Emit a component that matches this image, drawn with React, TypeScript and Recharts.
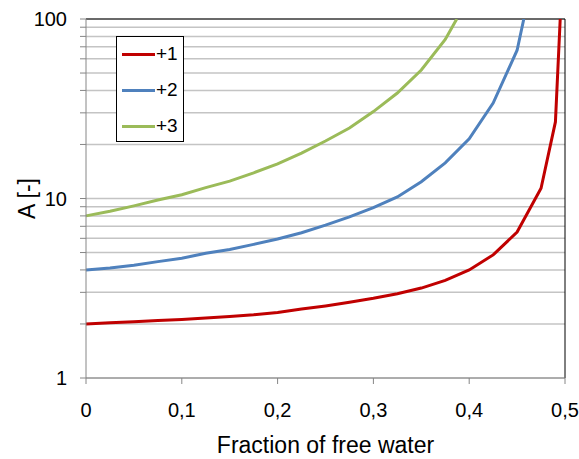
import React from "react";
import { LineChart, Line, XAxis, YAxis, CartesianGrid, Legend, ReferenceLine, Label } from "recharts";

// fraction of free water (x) and A [-] (y)
const redX = [0, 0.025, 0.05, 0.075, 0.1, 0.125, 0.15, 0.175, 0.2, 0.225, 0.25, 0.275, 0.3, 0.325, 0.35, 0.375, 0.4, 0.425, 0.45, 0.475, 0.49, 0.495];
const redY = [2.0, 2.03, 2.06, 2.09, 2.12, 2.16, 2.2, 2.25, 2.32, 2.42, 2.52, 2.64, 2.78, 2.95, 3.17, 3.5, 4.0, 4.85, 6.5, 11.4, 26.7, 100];

const blueX = [0, 0.025, 0.05, 0.075, 0.1, 0.125, 0.15, 0.175, 0.2, 0.225, 0.25, 0.275, 0.3, 0.325, 0.35, 0.375, 0.4, 0.425, 0.45, 0.457];
const blueY = [4.0, 4.1, 4.25, 4.45, 4.65, 4.95, 5.2, 5.55, 5.95, 6.45, 7.1, 7.9, 8.9, 10.2, 12.4, 15.8, 21.5, 34, 67, 100];

const greenX = [0, 0.025, 0.05, 0.075, 0.1, 0.125, 0.15, 0.175, 0.2, 0.225, 0.25, 0.275, 0.3, 0.325, 0.35, 0.375, 0.387];
const greenY = [8.0, 8.5, 9.1, 9.8, 10.5, 11.5, 12.5, 13.9, 15.6, 17.9, 20.9, 24.7, 30.5, 38.7, 52, 77, 100];

const seriesNames = ["+1", "+2", "+3"];
const COLORS = ["#C00000", "#4F81BD", "#9BBB59"];

const xTicks = [0, 0.1, 0.2, 0.3, 0.4, 0.5];
const yTicks = [1, 2, 3, 4, 5, 6, 7, 8, 9, 10, 20, 30, 40, 50, 60, 70, 80, 90, 100];
const yLabels = [1, 10, 100];

const toPoints = (xs: number[], ys: number[]) => xs.map((x, i) => ({ x, a: ys[i] }));

const series = [
  toPoints(redX, redY),
  toPoints(blueX, blueY),
  toPoints(greenX, greenY),
];

const FONT = "'Liberation Sans', Arial, sans-serif";

const LegendBox = () => (
  <div
    style={{
      width: 66,
      height: 104,
      border: "1px solid #000",
      background: "#fff",
      fontFamily: FONT,
      fontSize: 19,
      color: "#000",
      boxSizing: "content-box",
    }}
  >
    {seriesNames.map((name, i) => (
      <div key={name} style={{ position: "absolute", left: 6, top: 6 + i * 36, height: 24, display: "flex", alignItems: "center" }}>
        <span style={{ display: "inline-block", width: 33, height: 3, background: COLORS[i] }} />
        <span style={{ marginLeft: 1 }}>{name}</span>
      </div>
    ))}
  </div>
);

export default function App() {
  return (
    <div style={{ position: "fixed", left: 0, top: 0, background: "#fff" }}>
      <LineChart width={579} height={459} margin={{ top: 19, right: 14, left: 0, bottom: 0 }}>
        <CartesianGrid horizontal vertical={false} stroke="#c4c4c4" strokeWidth={1.5} />
        <XAxis
          type="number"
          dataKey="x"
          domain={[0, 0.5]}
          ticks={xTicks}
          height={81}
          tickSize={6}
          tickMargin={19}
          stroke="#868686"
          tick={{ fill: "#000", fontSize: 20, fontFamily: FONT }}
          tickFormatter={(v: number) => String(v).replace(".", ",")}
        >
          <Label
            content={({ viewBox }: any) => (
              <text x={viewBox.x + viewBox.width / 2} y={viewBox.y + 75} textAnchor="middle" fontSize={23} fontFamily={FONT} fill="#000">
                Fraction of free water
              </text>
            )}
          />
        </XAxis>
        <YAxis
          type="number"
          scale="log"
          domain={[1, 100]}
          allowDataOverflow
          ticks={yTicks}
          interval={0}
          width={86}
          tickSize={6}
          tickMargin={13}
          stroke="#868686"
          tick={{ fill: "#000", fontSize: 20, fontFamily: FONT }}
          tickFormatter={(v: number) => (yLabels.includes(v) ? String(v) : "")}
        >
          <Label
            content={({ viewBox }: any) => {
              const cx = 35;
              const cy = viewBox.y + viewBox.height / 2;
              return (
                <text x={cx} y={cy} transform={`rotate(-90 ${cx} ${cy})`} textAnchor="middle" fontSize={23} fontFamily={FONT} fill="#000">
                  A [-]
                </text>
              );
            }}
          />
        </YAxis>
        <ReferenceLine y={100} stroke="#000" strokeWidth={1} />
        <ReferenceLine x={0.5} stroke="#000" strokeWidth={1} />
        {series.map((data, i) => (
          <Line
            key={seriesNames[i]}
            data={data}
            dataKey="a"
            name={seriesNames[i]}
            type="linear"
            stroke={COLORS[i]}
            strokeWidth={3}
            dot={false}
            isAnimationActive={false}
          />
        ))}
        <Legend
          layout="vertical"
          align="center"
          verticalAlign="middle"
          wrapperStyle={{ left: 116, top: 36, width: 68, height: 106 }}
          content={() => <LegendBox />}
        />
      </LineChart>
    </div>
  );
}
